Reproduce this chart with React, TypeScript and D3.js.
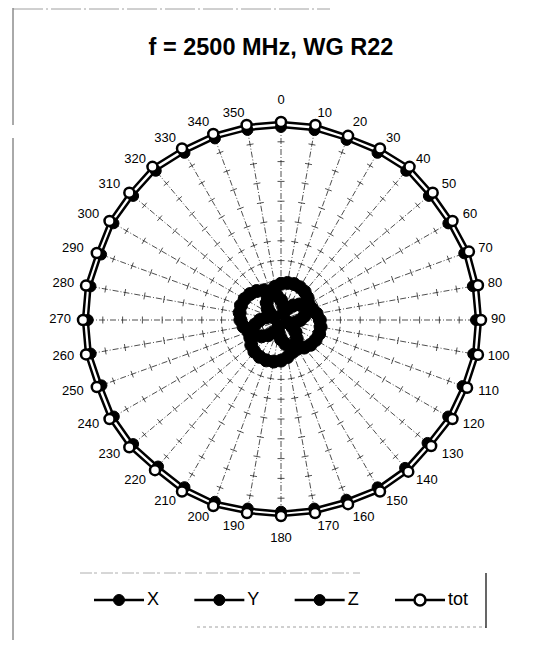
import React from 'react';
import * as d3 from 'd3';

const title = 'f = 2500 MHz, WG R22';

const angles = [0, 10, 20, 30, 40, 50, 60, 70, 80, 90, 100, 110, 120, 130, 140, 150, 160, 170,
    180, 190, 200, 210, 220, 230, 240, 250, 260, 270, 280, 290, 300, 310, 320, 330, 340, 350];

const xVals = [0.100, 0.071, 0.036, 0.069, 0.096, 0.122, 0.146, 0.166, 0.183, 0.196, 0.203, 0.205,
    0.202, 0.195, 0.182, 0.166, 0.146, 0.123, 0.097, 0.069, 0.034, 0.071, 0.100, 0.128,
    0.153, 0.175, 0.192, 0.205, 0.212, 0.215, 0.212, 0.204, 0.191, 0.173, 0.151, 0.127];

const yVals = [0.183, 0.190, 0.193, 0.191, 0.186, 0.175, 0.161, 0.143, 0.121, 0.098, 0.075, 0.040,
    0.065, 0.096, 0.124, 0.150, 0.172, 0.190, 0.205, 0.213, 0.217, 0.215, 0.209, 0.196,
    0.179, 0.158, 0.133, 0.106, 0.076, 0.041, 0.061, 0.088, 0.112, 0.135, 0.154, 0.170];

const zVals = [0.975, 0.974, 0.968, 0.975, 0.984, 0.975, 0.976, 0.985, 0.984, 0.985, 0.986, 0.976,
    0.975, 0.966, 0.975, 0.976, 0.966, 0.967, 0.968, 0.967, 0.977, 0.975, 0.966, 0.975,
    0.975, 0.965, 0.976, 0.976, 0.977, 0.967, 0.977, 0.975, 0.984, 0.975, 0.976, 0.975];

const totVals = [1.00, 1.00, 0.99, 1.00, 1.01, 1.00, 1.00, 1.01, 1.01, 1.01, 1.01, 1.00,
    1.00, 0.99, 1.00, 1.00, 0.99, 0.99, 0.99, 0.99, 1.00, 1.00, 0.99, 1.00,
    1.00, 0.99, 1.00, 1.00, 1.00, 0.99, 1.00, 1.00, 1.01, 1.00, 1.00, 1.00];

const radialTicks = [0.1, 0.2, 0.3, 0.4, 0.5, 0.6, 0.7, 0.8, 0.9];

const series = [
    { name: 'X', values: xVals, fill: '#000', r: 6.5, width: 9 },
    { name: 'Y', values: yVals, fill: '#000', r: 6.5, width: 9 },
    { name: 'Z', values: zVals, fill: '#000', r: 5.5, width: 2.5 },
    { name: 'tot', values: totVals, fill: '#fff', r: 5, width: 2.5 },
];

const W = 548;
const H = 648;
const cx = 281;
const cy = 320;
const R = 198;
const font = 'Arial, "Liberation Sans", sans-serif';

export default function App() {
    const rScale = d3.scaleLinear().domain([0, 1]).range([0, R]);
    const aScale = d3.scaleLinear().domain([0, 360]).range([0, 2 * Math.PI]);

    const line = d3.lineRadial<number>()
        .angle((_, i) => aScale(angles[i]))
        .radius(d => rScale(d))
        .curve(d3.curveLinearClosed);

    const pt = (a: number, r: number) => {
        const t = aScale(a);
        return [r * Math.sin(t), -r * Math.cos(t)];
    };

    const legendX = d3.scalePoint<string>()
        .domain(series.map(s => s.name))
        .range([119, 420]);

    return (
        <svg width={W} height={H} style={{ position: 'absolute', left: 0, top: 0, background: '#fff' }}>
            {/* frame remnants */}
            <line x1={13} y1={8} x2={13} y2={125} stroke="#555" strokeWidth={1} />
            <line x1={13} y1={138} x2={13} y2={640} stroke="#555" strokeWidth={1} />
            <line x1={13} y1={9} x2={330} y2={9} stroke="#888" strokeWidth={0.8} strokeDasharray="30 3 2 3" />

            <text x={271} y={55} textAnchor="middle" fontFamily={font} fontWeight="bold" fontSize={23.5}>
                {title}
            </text>

            <g transform={`translate(${cx},${cy})`}>
                {angles.map(a => {
                    const [x2, y2] = pt(a, R);
                    const t = aScale(a);
                    return (
                        <g key={`sp${a}`}>
                            <line x1={0} y1={0} x2={x2} y2={y2} stroke="#222" strokeWidth={0.8}
                                strokeDasharray="6 2 1 2" />
                            {radialTicks.map(v => {
                                const [tx, ty] = pt(a, rScale(v));
                                const dx = 3.5 * Math.cos(t);
                                const dy = 3.5 * Math.sin(t);
                                return (
                                    <line key={v} x1={tx - dx} y1={ty - dy} x2={tx + dx} y2={ty + dy}
                                        stroke="#222" strokeWidth={0.8} />
                                );
                            })}
                        </g>
                    );
                })}

                {series.map(s => (
                    <g key={s.name}>
                        <path d={line(s.values) || ''} fill="none" stroke="#000" strokeWidth={s.width}
                            strokeLinejoin="round" />
                        {s.values.map((v, i) => {
                            const [x, y] = pt(angles[i], rScale(v));
                            return (
                                <circle key={i} cx={x} cy={y} r={s.r} fill={s.fill} stroke="#000"
                                    strokeWidth={s.fill === '#fff' ? 2.5 : 1} />
                            );
                        })}
                    </g>
                ))}

                {angles.map(a => {
                    const t = aScale(a);
                    const s = Math.sin(t);
                    const c = Math.cos(t);
                    const vertical = Math.abs(s) < 0.01;
                    const rr = vertical ? R + 21 : R + 12;
                    const anchor = vertical ? 'middle' : s > 0 ? 'start' : 'end';
                    return (
                        <text key={`lb${a}`} x={rr * s} y={-rr * c} textAnchor={anchor}
                            dominantBaseline="middle" fontFamily={font} fontSize={13}>
                            {a}
                        </text>
                    );
                })}
            </g>

            {/* legend */}
            <line x1={80} y1={573} x2={360} y2={573} stroke="#999" strokeWidth={0.8} strokeDasharray="12 2 3 4" />
            <line x1={197} y1={627} x2={486} y2={627} stroke="#888" strokeWidth={0.8} strokeDasharray="3 3" />
            <line x1={486} y1={573} x2={486} y2={628} stroke="#000" strokeWidth={1.2} />
            {series.map(s => {
                const mx = legendX(s.name) || 0;
                return (
                    <g key={`lg${s.name}`}>
                        <line x1={mx - 25} y1={600} x2={mx + 25} y2={600} stroke="#000" strokeWidth={2.5} />
                        <circle cx={mx} cy={600} r={5.5} fill={s.fill} stroke="#000"
                            strokeWidth={s.fill === '#fff' ? 2.5 : 1} />
                        <text x={mx + 28} y={600} dominantBaseline="middle" fontFamily={font} fontSize={18}>
                            {s.name}
                        </text>
                    </g>
                );
            })}
        </svg>
    );
}
